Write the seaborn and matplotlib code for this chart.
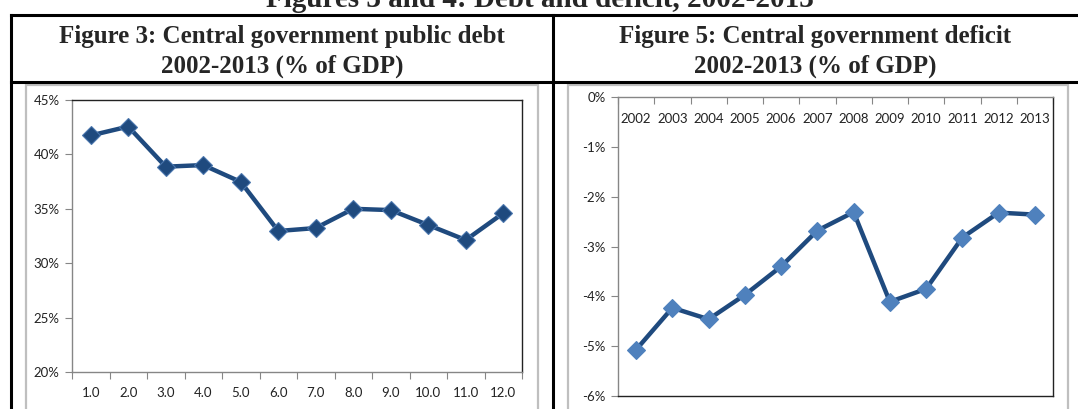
import matplotlib
matplotlib.use("Agg")
import matplotlib.pyplot as plt
import seaborn as sns
import pandas as pd
from matplotlib.lines import Line2D
from matplotlib.patches import Rectangle

# ---- data ----
debt_x = [1, 2, 3, 4, 5, 6, 7, 8, 9, 10, 11, 12]
debt_labels = ["1.0", "2.0", "3.0", "4.0", "5.0", "6.0", "7.0", "8.0", "9.0", "10.0", "11.0", "12.0"]
debt_values = [41.74, 42.56, 38.87, 39.02, 37.47, 32.96, 33.23, 35.0, 34.88, 33.51, 32.13, 34.60]
debt_yticks = [20, 25, 30, 35, 40, 45]
debt_ylabels = ["20%", "25%", "30%", "35%", "40%", "45%"]

years = [2002, 2003, 2004, 2005, 2006, 2007, 2008, 2009, 2010, 2011, 2012, 2013]
year_labels = ["2002", "2003", "2004", "2005", "2006", "2007", "2008", "2009", "2010", "2011", "2012", "2013"]
deficit_values = [-5.07, -4.23, -4.46, -3.97, -3.40, -2.68, -2.31, -4.11, -3.85, -2.82, -2.32, -2.36]
deficit_yticks = [-6, -5, -4, -3, -2, -1, 0]
deficit_ylabels = ["-6%", "-5%", "-4%", "-3%", "-2%", "-1%", "0%"]

heading = "Figures 3 and 4: Debt and deficit, 2002-2013"
title_left = ["Figure 3: Central government public debt", "2002-2013 (% of GDP)"]
title_right = ["Figure 5: Central government deficit", "2002-2013 (% of GDP)"]

# ---- style ----
sns.set_theme(style="white")
plt.rcParams["font.family"] = ["Lato", "DejaVu Sans"]

W, H = 1078, 409
fig = plt.figure(figsize=(W / 100, H / 100), dpi=100)
fig.patch.set_facecolor("white")

def box(x0, y0, x1, y1):
    return [x0 / W, 1 - y1 / H, (x1 - x0) / W, (y1 - y0) / H]

LINE = "#1F4A7E"

# table lines
for (xa, ya, xb, yb) in [(11, 15, W + 5, 15), (11, 82, W + 5, 82), (11, 15, 11, H + 5), (553, 15, 553, H + 5)]:
    fig.add_artist(Line2D([xa / W, xb / W], [1 - ya / H, 1 - yb / H], color="black", lw=2.2,
                          transform=fig.transFigure, solid_capstyle="projecting"))
# chart-area borders (grey)
for (x0, x1) in [(26, 538), (568, 1068)]:
    fig.add_artist(Rectangle((x0 / W, -0.05), (x1 - x0) / W, 1.05 - 85 / H, transform=fig.transFigure,
                             fill=False, edgecolor="#BFBFBF", lw=1.6))

serif = ["Liberation Serif", "DejaVu Serif"]
fig.text(540 / W, 1 - 7 / H, heading, ha="center", va="baseline", family=serif,
         fontweight="bold", fontsize=21)
for cx, lines in [(282, title_left), (815, title_right)]:
    for base, txt in zip([43, 73], lines):
        fig.text(cx / W, 1 - base / H, txt, ha="center", va="baseline", family=serif,
                 fontweight="bold", fontsize=18)

# ---- left chart ----
ax1 = fig.add_axes(box(72, 100, 522, 372))
df1 = pd.DataFrame({"x": debt_x, "y": debt_values})
sns.lineplot(data=df1, x="x", y="y", ax=ax1, color=LINE, lw=3.2, marker="D", markersize=9.5,
             markerfacecolor=LINE, markeredgecolor="#4A76AE", markeredgewidth=0.8)
ax1.set_xlim(0.5, 12.5)
ax1.set_ylim(20, 45)
ax1.set_xticks(debt_x)
ax1.set_xticklabels(debt_labels)
ax1.set_xticks([v + 0.5 for v in [0] + debt_x], minor=True)
ax1.set_yticks(debt_yticks)
ax1.set_yticklabels(debt_ylabels)
ax1.tick_params(axis="x", which="major", length=0, pad=11, labelsize=9.5, labelcolor="#222222")
ax1.tick_params(axis="x", which="minor", length=5, width=0.8, color="#868686", direction="out", bottom=True)
ax1.tick_params(axis="y", which="major", length=5, width=0.8, color="#868686", direction="out", left=True,
                pad=4, labelsize=9.5, labelcolor="#222222")
ax1.set_xlabel("")
ax1.set_ylabel("")
for s in ["top", "right"]:
    ax1.spines[s].set_color("#222222")
    ax1.spines[s].set_linewidth(1.0)
for s in ["left", "bottom"]:
    ax1.spines[s].set_color("#868686")
    ax1.spines[s].set_linewidth(1.0)

# ---- right chart ----
ax2 = fig.add_axes(box(618, 97, 1053, 396))
df2 = pd.DataFrame({"x": years, "y": deficit_values})
sns.lineplot(data=df2, x="x", y="y", ax=ax2, color=LINE, lw=3.2, marker="D", markersize=9.5,
             markerfacecolor="#4F81BD", markeredgecolor="#4F81BD", markeredgewidth=0.8)
ax2.set_xlim(2001.5, 2013.5)
ax2.set_ylim(-6, 0)
ax2.xaxis.set_ticks_position("top")
ax2.set_xticks(years)
ax2.set_xticklabels(year_labels)
ax2.set_xticks([v + 0.5 for v in [2001] + years], minor=True)
ax2.set_yticks(deficit_yticks)
ax2.set_yticklabels(deficit_ylabels)
ax2.tick_params(axis="x", which="major", length=0, top=False, bottom=False, labeltop=True, labelbottom=False,
                pad=-20, labelsize=9.5, labelcolor="#222222")
ax2.tick_params(axis="x", which="minor", length=5, width=0.8, color="#868686", direction="in", top=True, bottom=False)
ax2.tick_params(axis="y", which="major", length=5, width=0.8, color="#868686", direction="out", left=True,
                pad=4, labelsize=9.5, labelcolor="#222222")
ax2.set_xlabel("")
ax2.set_ylabel("")
for s in ["bottom", "right"]:
    ax2.spines[s].set_color("#222222")
    ax2.spines[s].set_linewidth(1.0)
for s in ["left", "top"]:
    ax2.spines[s].set_color("#868686")
    ax2.spines[s].set_linewidth(1.0)

fig.savefig("out.png", dpi=100, facecolor="white")
